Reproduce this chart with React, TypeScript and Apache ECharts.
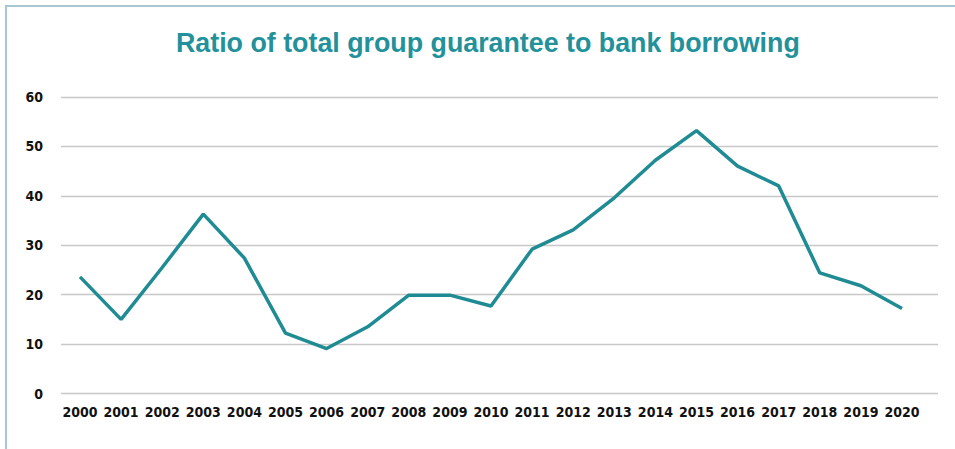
import React, { useEffect, useRef } from "react";
import * as echarts from "echarts";

const years = ["2000","2001","2002","2003","2004","2005","2006","2007","2008","2009","2010","2011","2012","2013","2014","2015","2016","2017","2018","2019","2020"];
const ratio = [23.6, 15.0, 25.5, 36.3, 27.4, 12.2, 9.1, 13.5, 19.9, 19.9, 17.7, 29.2, 33.1, 39.6, 47.2, 53.2, 46.0, 42.0, 24.4, 21.8, 17.2];
const yTicks = { min: 0, max: 60, interval: 10 };
const titleText = "Ratio of total group guarantee to bank borrowing";

export default function App() {
  const ref = useRef<HTMLDivElement>(null);
  useEffect(() => {
    if (!ref.current) return;
    const chart = echarts.init(ref.current, null, { renderer: "svg" });
    const labelFont = {
      fontFamily: "'DejaVu Sans Condensed', sans-serif",
      fontWeight: "bold" as const,
      fontSize: 14,
      color: "#111111",
    };
    chart.setOption({
      animation: false,
      backgroundColor: "#ffffff",
      title: {
        text: titleText,
        left: 171,
        top: 24,
        textStyle: {
          fontFamily: "'Liberation Sans', Arial, sans-serif",
          fontWeight: "bold",
          fontSize: 26.8,
          color: "#23919a",
        },
      },
      graphic: [
        {
          type: "rect",
          shape: { x: 6, y: 6, width: 1000, height: 500 },
          style: { fill: "none", stroke: "#a9c7d0", lineWidth: 2 },
          silent: true,
        },
      ],
      grid: [
        { left: 61, right: 17, top: 97, bottom: 55.5 },
        { left: 80, right: 53, top: 97, bottom: 55.5 },
      ],
      xAxis: [
        { type: "value", gridIndex: 0, show: false, min: 0, max: 1 },
        {
          type: "category",
          gridIndex: 1,
          data: years,
          boundaryGap: false,
          axisLine: { show: false },
          axisTick: { show: false },
          axisLabel: { ...labelFont, margin: 11, interval: 0 },
        },
      ],
      yAxis: [
        {
          type: "value",
          gridIndex: 0,
          min: yTicks.min,
          max: yTicks.max,
          interval: yTicks.interval,
          axisLine: { show: false },
          axisTick: { show: false },
          axisLabel: { ...labelFont, margin: 18 },
          splitLine: { show: true, lineStyle: { color: "#c8c8c8", width: 1.3 } },
        },
        {
          type: "value",
          gridIndex: 1,
          min: yTicks.min,
          max: yTicks.max,
          interval: yTicks.interval,
          show: false,
        },
      ],
      series: [
        {
          type: "line",
          xAxisIndex: 1,
          yAxisIndex: 1,
          data: ratio,
          symbol: "none",
          lineStyle: { color: "#1f8b93", width: 3.5 },
        },
      ],
    });
    return () => chart.dispose();
  }, []);
  return (
    <div
      ref={ref}
      style={{ position: "absolute", left: 0, top: 0, width: 955, height: 449 }}
    />
  );
}
